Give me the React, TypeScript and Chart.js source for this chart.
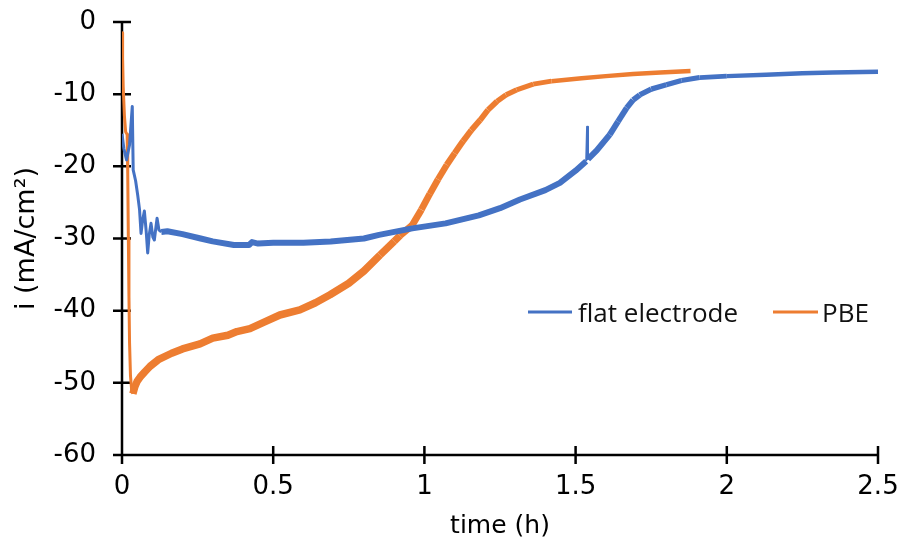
import React, { useEffect, useRef } from "react";
import { Chart, registerables } from "chart.js";

Chart.register(...registerables);

// ---- data ----
const flatTime = [0, 0.006, 0.015, 0.025, 0.034, 0.037, 0.045, 0.052, 0.058, 0.063, 0.068, 0.074, 0.08, 0.085, 0.09, 0.096, 0.102, 0.107, 0.112, 0.116, 0.122, 0.13, 0.15, 0.2, 0.26, 0.3, 0.37, 0.42, 0.43, 0.45, 0.5, 0.6, 0.69, 0.8, 0.85, 0.96, 1.07, 1.18, 1.25, 1.316, 1.4, 1.448, 1.5, 1.535, 1.538, 1.541, 1.57, 1.613, 1.64, 1.669, 1.69, 1.712, 1.75, 1.8, 1.85, 1.91, 2.0, 2.13, 2.25, 2.35, 2.5];
const flatCurrent = [-15.5, -17.5, -19.1, -17, -11.7, -20.5, -22, -24, -26, -29.3, -27.5, -26.2, -29, -32, -29.5, -27.9, -29.8, -30.2, -28.5, -27.2, -28.8, -29.1, -29.0, -29.4, -30.0, -30.4, -30.9, -30.9, -30.5, -30.7, -30.6, -30.6, -30.4, -30.0, -29.5, -28.6, -27.9, -26.8, -25.8, -24.6, -23.3, -22.3, -20.6, -19.3, -14.5, -19.0, -17.8, -15.6, -13.8, -11.9, -10.8, -10.1, -9.3, -8.7, -8.1, -7.7, -7.5, -7.3, -7.1, -7.0, -6.9];

const pbeTime = [0, 0.002, 0.004, 0.008, 0.012, 0.017, 0.019, 0.021, 0.023, 0.025, 0.028, 0.032, 0.036, 0.042, 0.05, 0.06, 0.075, 0.093, 0.12, 0.164, 0.2, 0.258, 0.3, 0.35, 0.38, 0.423, 0.47, 0.522, 0.588, 0.64, 0.688, 0.75, 0.8, 0.853, 0.9, 0.919, 0.959, 0.99, 1.018, 1.045, 1.074, 1.1, 1.128, 1.155, 1.184, 1.21, 1.24, 1.27, 1.305, 1.36, 1.42, 1.52, 1.6, 1.69, 1.78, 1.88];
const pbeCurrent = [-1.5, -5, -9, -13, -15.2, -15.6, -21, -30, -38, -44.5, -49, -51, -51.5, -50.6, -49.8, -49.2, -48.5, -47.7, -46.8, -45.9, -45.3, -44.6, -43.8, -43.4, -42.9, -42.5, -41.6, -40.6, -39.9, -38.9, -37.8, -36.2, -34.5, -32.3, -30.4, -29.6, -28.2, -26.0, -23.8, -21.8, -19.8, -18.2, -16.5, -15.0, -13.6, -12.2, -11.0, -10.1, -9.4, -8.6, -8.2, -7.8, -7.5, -7.2, -7.0, -6.8];

const seriesNames = ["flat electrode", "PBE"];
const xTicks = [0, 0.5, 1, 1.5, 2, 2.5];
const yTicks = [0, -10, -20, -30, -40, -50, -60];
const xTitle = "time (h)";
const yTitle = "i (mA/cm²)";

const BLUE = "#4472C4";
const ORANGE = "#ED7D31";
const TICK_FONT = { family: "'DejaVu Sans'", size: 26 };

const axesPlugin = {
  id: "crossAxes",
  beforeDatasetsDraw(chart: any) {
    const { ctx, chartArea, scales } = chart;
    const xs = scales.x;
    const ys = scales.y;
    ctx.save();
    ctx.strokeStyle = "#000";
    ctx.lineWidth = 2.5;
    ctx.lineCap = "butt";
    ctx.beginPath();
    ctx.moveTo(chartArea.left, chartArea.top - 1);
    ctx.lineTo(chartArea.left, chartArea.bottom + 1);
    ctx.moveTo(chartArea.left - 1, chartArea.bottom);
    ctx.lineTo(chartArea.right + 1, chartArea.bottom);
    const len = 9;
    for (const v of yTicks) {
      const y = ys.getPixelForValue(v);
      ctx.moveTo(chartArea.left - len, y);
      ctx.lineTo(chartArea.left + len, y);
    }
    for (const v of xTicks) {
      const x = xs.getPixelForValue(v);
      ctx.moveTo(x, chartArea.bottom - len);
      ctx.lineTo(x, chartArea.bottom + len);
    }
    ctx.stroke();
    ctx.restore();
  },
};

const legendPlugin = {
  id: "inlineLegend",
  afterDraw(chart: any) {
    const { ctx } = chart;
    ctx.save();
    ctx.font = "26px 'Open Sans'";
    ctx.textBaseline = "alphabetic";
    ctx.textAlign = "left";
    const items = [
      { color: BLUE, x0: 528, x1: 572, tx: 578 },
      { color: ORANGE, x0: 773, x1: 818, tx: 822 },
    ];
    items.forEach((it, i) => {
      ctx.strokeStyle = it.color;
      ctx.lineWidth = 3;
      ctx.beginPath();
      ctx.moveTo(it.x0, 312);
      ctx.lineTo(it.x1, 312);
      ctx.stroke();
      ctx.fillStyle = "#111";
      ctx.fillText(seriesNames[i], it.tx, 322);
    });
    ctx.restore();
  },
};

function lerpWidth(x: number, x0: number, w0: number, x1: number, w1: number) {
  if (x <= x0) return w0;
  if (x >= x1) return w1;
  return w0 + ((w1 - w0) * (x - x0)) / (x1 - x0);
}

function widthFor(kind: string) {
  return (c: any) => {
    const a = c.p0.parsed.x;
    const b = c.p1.parsed.x;
    const m = (a + b) / 2;
    if (kind === "flat") {
      if (b - a < 0.01 && a >= 1.53 && b <= 1.545) return 2;
      if (a < 0.13) return 3;
      return lerpWidth(m, 1.6, 6, 2.0, 4.5);
    }
    if (a < 0.036) return 3;
    return lerpWidth(m, 0.85, 7.5, 1.45, 4.5);
  };
}

function zeroPad(s: any) {
  s.paddingTop = 0;
  s.paddingBottom = 0;
  s.paddingLeft = 0;
  s.paddingRight = 0;
}

export default function App() {
  const ref = useRef<HTMLCanvasElement | null>(null);
  useEffect(() => {
    if (!ref.current) return;
    const chart = new Chart(ref.current, {
      type: "line",
      data: {
        datasets: [
          {
            label: seriesNames[0],
            data: flatTime.map((t, i) => ({ x: t, y: flatCurrent[i] })),
            borderColor: BLUE,
            backgroundColor: BLUE,
            borderWidth: 5,
            borderJoinStyle: "round",
            pointRadius: 0,
            tension: 0,
            segment: { borderWidth: widthFor("flat") },
          },
          {
            label: seriesNames[1],
            data: pbeTime.map((t, i) => ({ x: t, y: pbeCurrent[i] })),
            borderColor: ORANGE,
            backgroundColor: ORANGE,
            borderWidth: 5,
            borderJoinStyle: "round",
            pointRadius: 0,
            tension: 0,
            segment: { borderWidth: widthFor("pbe") },
          },
        ],
      },
      options: {
        animation: false,
        responsive: false,
        events: [],
        layout: { padding: { top: 22, right: 28, left: 0, bottom: 0 } },
        plugins: { legend: { display: false }, tooltip: { enabled: false } },
        scales: {
          x: {
            type: "linear",
            min: 0,
            max: 2.5,
            afterBuildTicks: (s: any) => {
              s.ticks = xTicks.map((v) => ({ value: v }));
            },
            afterFit: (s: any) => {
              s.height = 95;
              zeroPad(s);
            },
            ticks: { font: TICK_FONT, color: "#000", padding: 17, maxRotation: 0, callback: (v: any) => String(v) },
            grid: { display: false, drawTicks: false },
            border: { display: false },
            title: {
              display: true,
              text: xTitle,
              color: "#000",
              font: { family: "'DejaVu Sans'", size: 25 },
              padding: { top: 0, bottom: 9 },
            },
          },
          y: {
            type: "linear",
            min: -60,
            max: 0,
            afterBuildTicks: (s: any) => {
              s.ticks = yTicks.slice().reverse().map((v) => ({ value: v }));
            },
            afterFit: (s: any) => {
              s.width = 122;
              zeroPad(s);
            },
            ticks: { font: TICK_FONT, color: "#000", padding: 26, callback: (v: any) => String(v) },
            grid: { display: false, drawTicks: false },
            border: { display: false },
            title: {
              display: true,
              text: yTitle,
              color: "#000",
              font: { family: "'DejaVu Sans'", size: 27 },
              padding: { top: 11, bottom: 0 },
            },
          },
        },
      },
      plugins: [axesPlugin, legendPlugin],
    } as any);
    return () => chart.destroy();
  }, []);
  return (
    <div style={{ position: "fixed", left: 0, top: 0, width: 906, height: 550, background: "#fff" }}>
      <canvas ref={ref} width={906} height={550} style={{ width: 906, height: 550, display: "block" }} />
    </div>
  );
}
